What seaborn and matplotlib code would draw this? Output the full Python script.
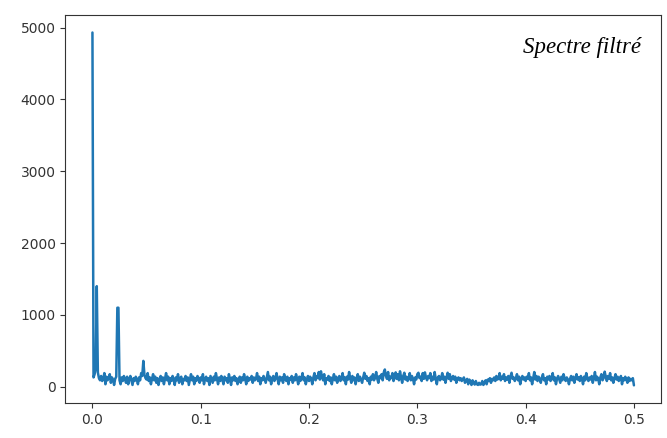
import numpy as np
import pandas as pd
import matplotlib
matplotlib.use("Agg")
import matplotlib.pyplot as plt
import seaborn as sns

# Amplitude of the filtered spectrum, one value per frequency bin (step 0.001, 0 .. 0.5)
amplitude = [
    4930, 130, 175, 250, 1400, 200, 120, 90, 150, 80, 110, 190, 35, 140, 90, 120, 175, 55, 130, 100,
    25, 110, 140, 1100, 1100, 90, 35, 130, 80, 150, 110, 55, 140, 35, 100, 150, 90, 25, 120, 80,
    140, 100, 35, 130, 90, 190, 150, 360, 170, 120, 100, 190, 80, 130, 35, 110, 175, 90, 140, 55,
    120, 25, 100, 150, 80, 130, 35, 110, 190, 90, 140, 35, 120, 80, 150, 100, 25, 130, 90, 175,
    55, 120, 140, 35, 110, 90, 150, 80, 130, 25, 100, 175, 90, 140, 35, 120, 80, 150, 110, 55,
    130, 90, 175, 35, 110, 140, 80, 120, 25, 150, 100, 55, 140, 90, 190, 110, 35, 130, 80, 150,
    100, 35, 140, 90, 120, 55, 175, 110, 25, 130, 90, 150, 80, 120, 35, 100, 140, 55, 130, 90,
    175, 110, 35, 140, 80, 120, 100, 150, 55, 130, 90, 110, 190, 80, 140, 35, 120, 90, 150, 100,
    55, 130, 205, 90, 140, 35, 110, 150, 80, 120, 190, 100, 35, 140, 90, 130, 55, 175, 110, 80,
    140, 35, 120, 100, 150, 55, 130, 90, 175, 110, 35, 140, 80, 120, 190, 90, 130, 35, 100, 150,
    80, 140, 110, 35, 130, 190, 90, 150, 120, 205, 100, 215, 140, 90, 175, 35, 120, 100, 150, 80,
    130, 35, 110, 175, 90, 140, 55, 120, 150, 80, 110, 190, 90, 130, 35, 140, 100, 205, 120, 55,
    150, 90, 130, 35, 110, 175, 80, 140, 100, 55, 130, 195, 110, 150, 80, 120, 35, 140, 100, 175,
    90, 130, 205, 110, 55, 150, 120, 175, 90, 200, 240, 150, 110, 205, 90, 140, 120, 190, 80, 130,
    200, 110, 175, 90, 215, 130, 55, 150, 195, 100, 140, 80, 120, 190, 90, 150, 110, 35, 130, 100,
    175, 195, 120, 140, 80, 190, 110, 200, 130, 90, 150, 120, 190, 80, 140, 100, 205, 110, 35, 130,
    150, 90, 120, 190, 100, 140, 55, 130, 195, 110, 175, 80, 120, 150, 100, 140, 55, 110, 130, 90,
    120, 80, 100, 130, 55, 90, 110, 35, 100, 80, 25, 90, 55, 30, 80, 35, 25, 55, 30, 35,
    80, 25, 55, 90, 35, 100, 80, 120, 55, 110, 90, 130, 80, 150, 100, 120, 190, 90, 140, 110,
    175, 80, 130, 100, 150, 55, 140, 195, 110, 130, 80, 120, 175, 90, 140, 35, 110, 150, 100, 130,
    80, 140, 110, 190, 90, 130, 35, 120, 205, 100, 150, 80, 140, 110, 55, 130, 175, 90, 120, 35,
    140, 100, 150, 80, 120, 190, 90, 130, 35, 110, 150, 100, 55, 140, 90, 175, 120, 80, 130, 100,
    35, 110, 150, 90, 140, 55, 120, 175, 100, 130, 80, 150, 110, 35, 140, 90, 190, 120, 80, 130,
    100, 150, 55, 120, 205, 90, 140, 110, 35, 130, 175, 90, 120, 210, 140, 80, 150, 110, 190, 90,
    130, 55, 120, 175, 100, 140, 80, 110, 150, 35, 120, 90, 140, 100, 55, 130, 80, 110, 90, 120,
    20,
]
frequency = np.linspace(0.0, 0.5, len(amplitude))

df = pd.DataFrame({"frequence": frequency, "amplitude": amplitude})

sns.set_style("ticks")
plt.rcParams["axes.edgecolor"] = "#333333"
plt.rcParams["xtick.color"] = "#333333"
plt.rcParams["ytick.color"] = "#333333"

fig = plt.figure(figsize=(6.67, 4.38), dpi=100)
ax = fig.add_axes([0.098, 0.080, 0.893, 0.886])

sns.lineplot(data=df, x="frequence", y="amplitude", color="#1f77b4",
             linewidth=1.8, ax=ax)

ax.set_xlabel("")
ax.set_ylabel("")
ax.set_xticks([0.0, 0.1, 0.2, 0.3, 0.4, 0.5])
ax.set_yticks([0, 1000, 2000, 3000, 4000, 5000])
ax.tick_params(labelsize=10, labelcolor="#333333")
for side in ["top", "right", "left", "bottom"]:
    ax.spines[side].set_visible(True)

ax.text(0.966, 0.917, "Spectre filtré", transform=ax.transAxes,
        ha="right", va="center", fontsize=16.5, style="italic",
        family="Liberation Serif", color="black")

fig.savefig("out.png", dpi=100)
